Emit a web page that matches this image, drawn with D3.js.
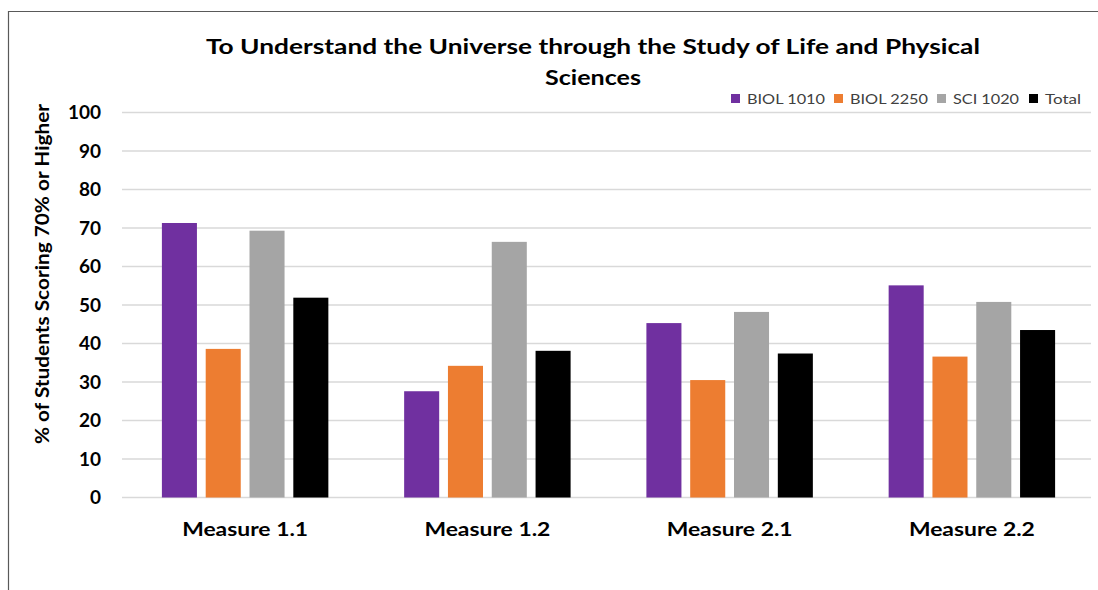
<!DOCTYPE html>
<html><head><meta charset="utf-8">
<script src="https://cdn.jsdelivr.net/npm/d3@7"></script>
<style>body{margin:0;background:#fff}svg{display:block}</style>
</head><body>
<script>
const categories = ["Measure 1.1","Measure 1.2","Measure 2.1","Measure 2.2"];
const seriesNames = ["BIOL 1010","BIOL 2250","SCI 1020","Total"];
const biol1010 = [71.3, 27.6, 45.3, 55.1];
const biol2250 = [38.6, 34.2, 30.5, 36.6];
const sci1020 = [69.3, 66.4, 48.2, 50.8];
const total = [51.9, 38.1, 37.4, 43.5];
const yTicks = [0,10,20,30,40,50,60,70,80,90,100];
const colors = ["#7030a0","#ed7d31","#a5a5a5","#000000"];
const series = [biol1010, biol2250, sci1020, total];

const W = 1098, H = 590;
const svg = d3.select("body").append("svg").attr("width", W).attr("height", H);
const font = "Lato, 'Open Sans', sans-serif";

// frame
svg.append("path").attr("d", `M8.5,${H} L8.5,11.5 L${W},11.5`).attr("fill","none").attr("stroke","#595959").attr("stroke-width",1.2);

const x0 = d3.scaleBand().domain(categories).range([124, 1093]).paddingInner(0).paddingOuter(0);
const x1 = d3.scaleBand().domain(seriesNames).range([0, x0.bandwidth()]).paddingInner(0.2).paddingOuter(0.865);
const y = d3.scaleLinear().domain([0,100]).range([497.5, 112.5]);

// gridlines
svg.append("g").selectAll("line").data(yTicks).join("line")
  .attr("x1", 122).attr("x2", 1091)
  .attr("y1", d=>y(d)).attr("y2", d=>y(d))
  .attr("stroke","#d9d9d9").attr("stroke-width",1.5);

// y tick labels
svg.append("g").selectAll("text").data(yTicks).join("text")
  .attr("x", 101).attr("y", d=>y(d)).attr("dy","0.36em")
  .attr("text-anchor","end").attr("font-family",font).attr("font-weight","bold")
  .attr("font-size",19).attr("fill","#000").text(d=>d);

// bars
const groups = svg.append("g").selectAll("g").data(categories).join("g")
  .attr("transform", d=>`translate(${x0(d)},0)`);
groups.selectAll("rect").data((c,i)=>seriesNames.map((s,j)=>({s, v: series[j][i], j})))
  .join("rect")
  .attr("x", d=>x1(d.s)).attr("width", x1.bandwidth())
  .attr("y", d=>y(d.v)).attr("height", d=>y(0)-y(d.v))
  .attr("fill", d=>colors[d.j]);

// x labels
svg.append("g").selectAll("text").data(categories).join("text")
  .attr("x", d=>x0(d)+x0.bandwidth()/2).attr("y", 536)
  .attr("text-anchor","middle").attr("font-family",font).attr("font-weight","bold")
  .attr("font-size",18).attr("fill","#000")
  .attr("textLength",126).attr("lengthAdjust","spacingAndGlyphs")
  .text(d=>d);

// y title
svg.append("text").attr("transform","translate(49,274) rotate(-90)")
  .attr("text-anchor","middle").attr("font-family",font).attr("font-weight","bold")
  .attr("font-size",18).attr("fill","#000")
  .attr("textLength",340).attr("lengthAdjust","spacingAndGlyphs")
  .text("% of Students Scoring 70% or Higher");

// title
const title = svg.append("text").attr("text-anchor","middle").attr("font-family",font)
  .attr("font-weight","bold").attr("font-size",20).attr("fill","#000");
title.append("tspan").attr("x",593).attr("y",54)
  .attr("textLength",774).attr("lengthAdjust","spacingAndGlyphs")
  .text("To Understand the Universe through the Study of Life and Physical");
title.append("tspan").attr("x",593).attr("y",85)
  .attr("textLength",96).attr("lengthAdjust","spacingAndGlyphs")
  .text("Sciences");

// legend
const legX = [731, 834, 937, 1029];
const legW = [78, 78, 66, 36];
const leg = svg.append("g").selectAll("g").data(seriesNames).join("g")
  .attr("transform",(d,i)=>`translate(${legX[i]},99)`);
leg.append("rect").attr("x",0).attr("y",-5).attr("width",9).attr("height",9).attr("fill",(d,i)=>colors[i]);
leg.append("text").attr("x",16).attr("y",0).attr("dy","0.36em")
  .attr("font-family",font).attr("font-size",14).attr("fill","#404040")
  .attr("textLength",(d,i)=>legW[i]).attr("lengthAdjust","spacingAndGlyphs")
  .text(d=>d);
</script>
</body></html>
